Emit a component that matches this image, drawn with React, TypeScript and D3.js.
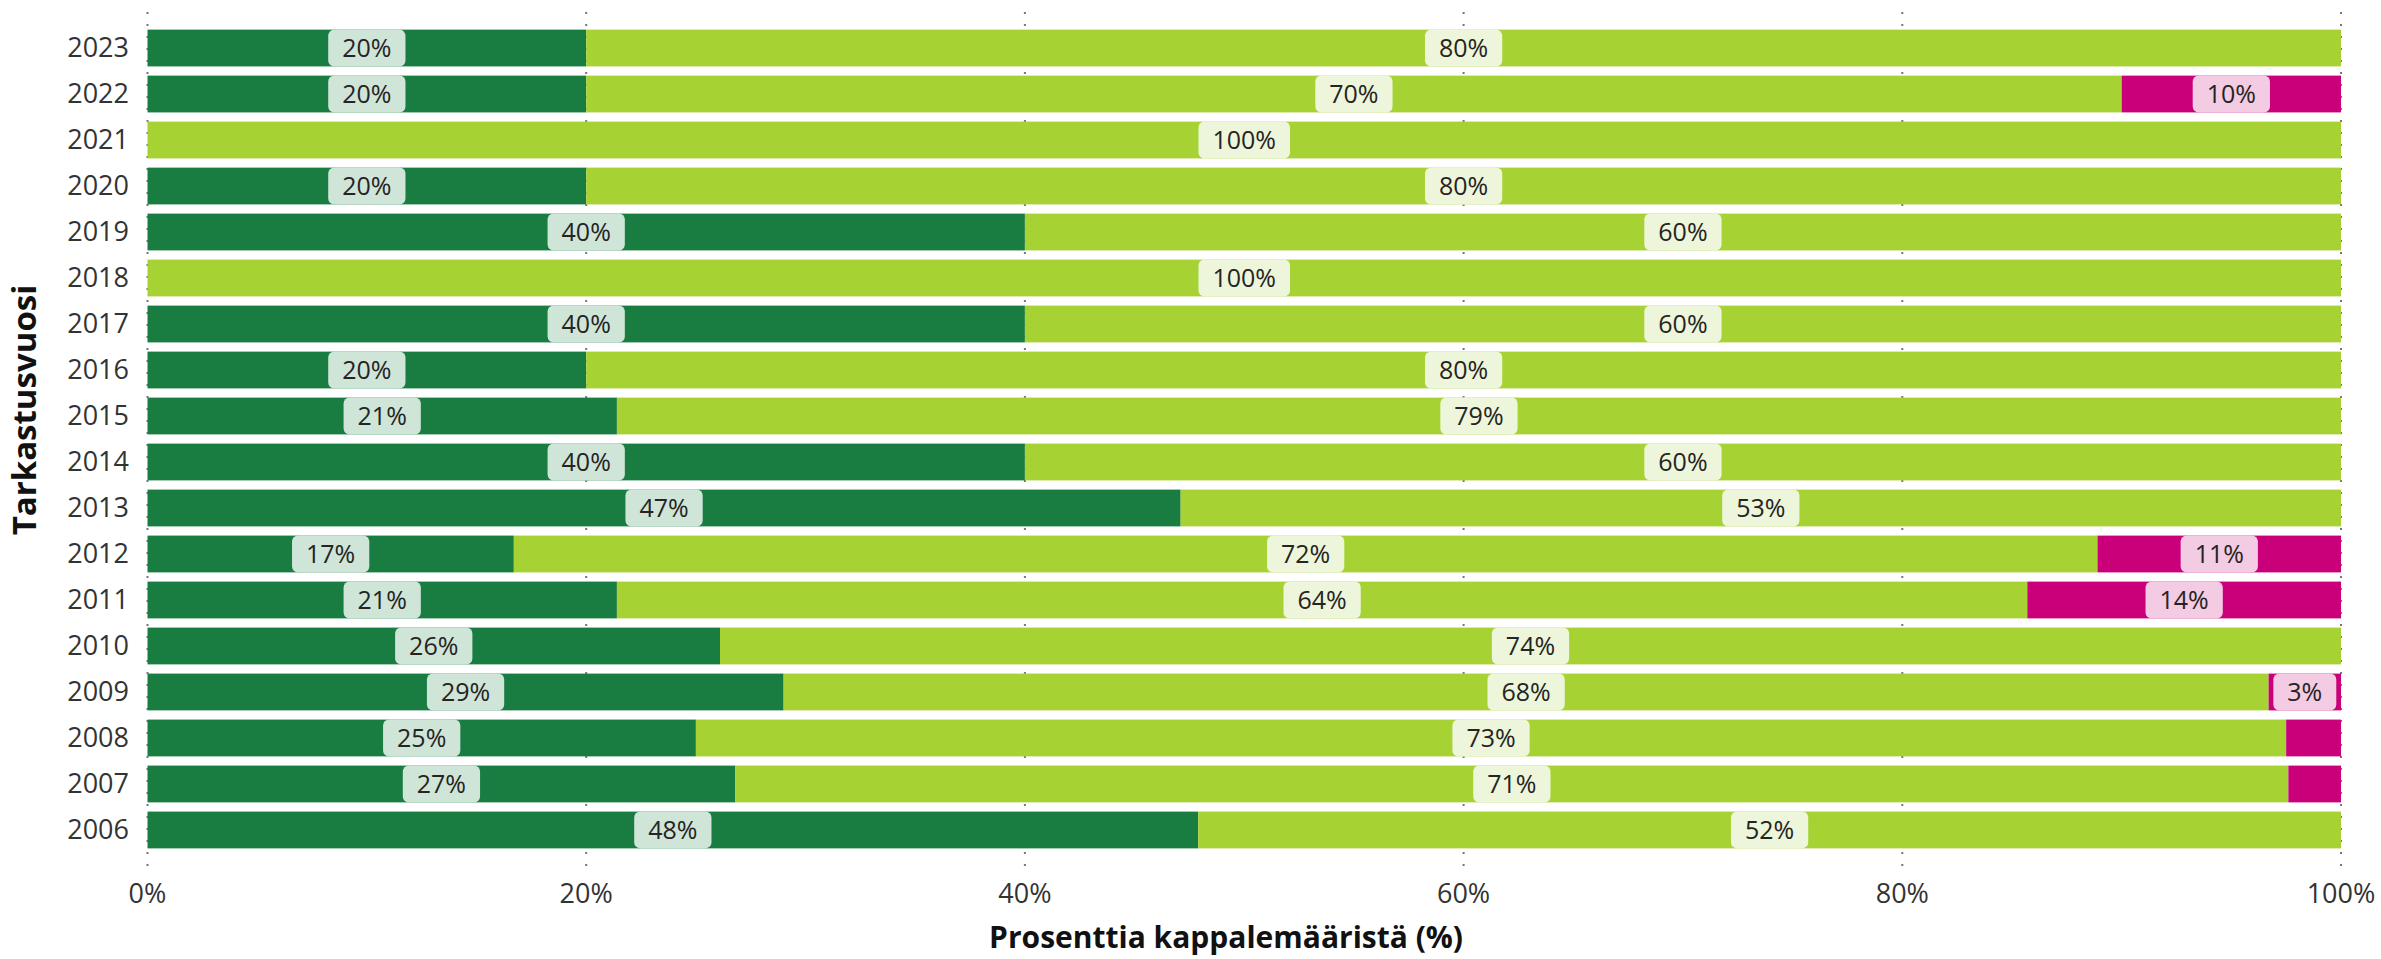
import React, { useEffect, useRef } from 'react';
import * as d3 from 'd3';

const years = ['2023', '2022', '2021', '2020', '2019', '2018', '2017', '2016', '2015', '2014', '2013', '2012', '2011', '2010', '2009', '2008', '2007', '2006'];
const darkGreen = [20, 20, 0, 20, 40, 0, 40, 20, 21.4, 40, 47.1, 16.7, 21.4, 26.1, 29.0, 25, 26.8, 47.9];
const lightGreen = [80, 70, 100, 80, 60, 100, 60, 80, 78.6, 60, 52.9, 72.2, 64.3, 73.9, 67.7, 72.5, 70.8, 52.1];
const magenta = [0, 10, 0, 0, 0, 0, 0, 0, 0, 0, 0, 11.1, 14.3, 0, 3.3, 2.5, 2.4, 0];
const xTicks = [0, 20, 40, 60, 80, 100];

const seriesKeys = ['darkGreen', 'lightGreen', 'magenta'];
const seriesColors: Record<string, string> = { darkGreen: '#197c41', lightGreen: '#a6d233', magenta: '#c9007a' };
const labelBg: Record<string, string> = { darkGreen: '#cfe5d8', lightGreen: '#edf6da', magenta: '#f3cbe3' };

const W = 2381;
const H = 959;
const FONT = '"Segoe UI", "Open Sans", sans-serif';

const App: React.FC = () => {
  const svgRef = useRef<SVGSVGElement>(null);

  useEffect(() => {
    if (!svgRef.current) return;
    const svg = d3.select(svgRef.current);
    svg.selectAll('*').remove();

    const rows = years.map((year, i) => ({
      year,
      darkGreen: darkGreen[i],
      lightGreen: lightGreen[i],
      magenta: magenta[i],
    }));

    const x = d3.scaleLinear().domain([0, 100]).range([147.5, 2341]);
    const y = d3.scaleBand().domain(years).range([8, 870]).paddingInner(0.2).paddingOuter(0.47);

    const stack = d3.stack<any>().keys(seriesKeys);
    const series = stack(rows);

    // dotted gridlines
    svg.append('g')
      .selectAll('line')
      .data(xTicks)
      .enter().append('line')
      .attr('x1', d => x(d))
      .attr('x2', d => x(d))
      .attr('y1', 12)
      .attr('y2', 872)
      .attr('stroke', '#777')
      .attr('stroke-width', 2)
      .attr('stroke-dasharray', '2,10');

    // bars
    const layers = svg.append('g')
      .selectAll('g')
      .data(series)
      .enter().append('g')
      .attr('fill', d => seriesColors[d.key]);

    layers.selectAll('rect')
      .data(d => d.map(p => ({ p, key: d.key })))
      .enter().append('rect')
      .attr('x', d => x(d.p[0]))
      .attr('y', d => y(d.p.data.year) || 0)
      .attr('width', d => Math.max(0, x(d.p[1]) - x(d.p[0])))
      .attr('height', y.bandwidth());

    // data labels (hidden when the box doesn't fit the segment)
    const labels = svg.append('g');
    series.forEach(s => {
      s.forEach(p => {
        const v = p[1] - p[0];
        if (v <= 0) return;
        const segW = x(p[1]) - x(p[0]);
        const cx = (x(p[0]) + x(p[1])) / 2;
        const cy = (y(p.data.year) || 0) + y.bandwidth() / 2;
        const g = labels.append('g');
        const rect = g.append('rect');
        const t = g.append('text')
          .attr('x', cx)
          .attr('y', cy)
          .attr('dy', '0.35em')
          .attr('text-anchor', 'middle')
          .style('font-family', FONT)
          .style('font-size', '25px')
          .attr('fill', '#252423')
          .text(`${Math.round(v)}%`);
        const tw = (t.node() as SVGTextElement).getComputedTextLength();
        const bw = tw + 28;
        if (bw > segW) {
          g.remove();
          return;
        }
        rect.attr('x', cx - bw / 2)
          .attr('y', y(p.data.year) || 0)
          .attr('width', bw)
          .attr('height', y.bandwidth())
          .attr('rx', 6)
          .attr('fill', labelBg[s.key]);
      });
    });

    // y tick labels
    svg.append('g')
      .selectAll('text')
      .data(years)
      .enter().append('text')
      .attr('x', 129)
      .attr('y', d => (y(d) || 0) + y.bandwidth() / 2)
      .attr('dy', '0.35em')
      .attr('text-anchor', 'end')
      .style('font-family', FONT)
      .style('font-size', '27px')
      .attr('fill', '#333')
      .text(d => d);

    // x tick labels
    svg.append('g')
      .selectAll('text')
      .data(xTicks)
      .enter().append('text')
      .attr('x', d => x(d))
      .attr('y', 894)
      .attr('dy', '0.35em')
      .attr('text-anchor', 'middle')
      .style('font-family', FONT)
      .style('font-size', '27px')
      .attr('fill', '#333')
      .text(d => `${d}%`);

    // axis titles
    svg.append('text')
      .attr('x', 1463)
      .attr('y', 948)
      .attr('text-anchor', 'end')
      .style('font-family', FONT)
      .style('font-size', '30px')
      .style('font-weight', 'bold')
      .attr('fill', '#111')
      .text('Prosenttia kappalemääristä (%)');

    svg.append('text')
      .attr('transform', 'translate(36,410) rotate(-90)')
      .attr('text-anchor', 'middle')
      .style('font-family', FONT)
      .style('font-size', '33px')
      .style('font-weight', 'bold')
      .attr('fill', '#111')
      .text('Tarkastusvuosi');
  }, []);

  return (
    <div style={{ position: 'absolute', left: 0, top: 0, background: '#fff' }}>
      <svg ref={svgRef} width={W} height={H}></svg>
    </div>
  );
};

export default App;
